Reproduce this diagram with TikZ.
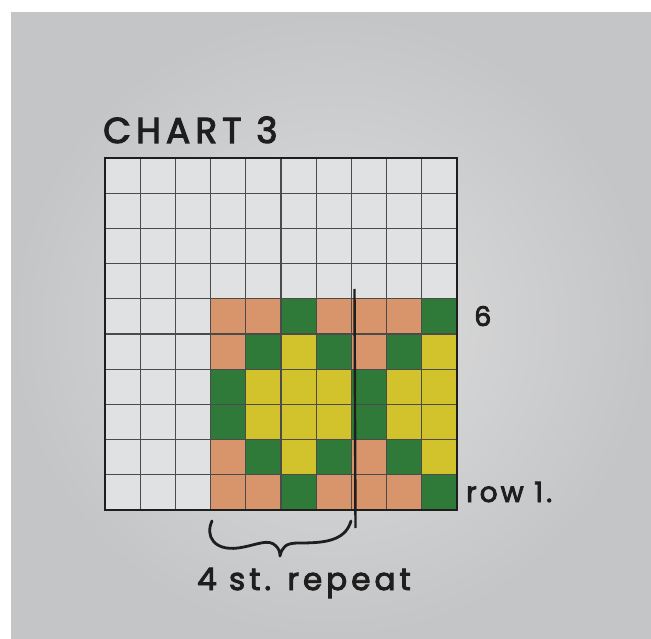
\documentclass[tikz,border=0pt]{standalone}
\usepackage{fontspec}
\setmainfont{Poppins}[FakeBold=3]
\definecolor{paperin}{HTML}{DEDEDE}
\definecolor{paperout}{HTML}{C4C5C7}
\definecolor{cellw}{HTML}{DFE1E3}
\definecolor{O}{HTML}{D8956C}
\definecolor{G}{HTML}{2F7A38}
\definecolor{Y}{HTML}{D2C22C}
\definecolor{ink}{HTML}{1E1E1E}
\tikzset{
  gridline/.style={draw=ink!80, line width=1.1pt},
  border/.style={draw=ink, line width=2pt},
  pen/.style={draw=ink, line width=2.8pt, line cap=round, line join=round},
  hand/.style={text=ink, inner sep=0pt, anchor=base west}
}
\begin{document}
\begin{tikzpicture}[x=1pt,y=-1pt]
\useasboundingbox (0,0) rectangle (651,639);
\fill[white] (0,0) rectangle (651,639);
\shade[inner color=paperin, outer color=paperout] (11,13) rectangle (651,639);
% blank cells
\fill[cellw] (105,158) rectangle (457,510);
% coloured cells (rows from top, index 4 = row 6, index 9 = row 1)
\foreach \r/\pat in {4/{O,O,G,O,O,O,G},5/{O,G,Y,G,O,G,Y},6/{G,Y,Y,Y,G,Y,Y},7/{G,Y,Y,Y,G,Y,Y},8/{O,G,Y,G,O,G,Y},9/{O,O,G,O,O,O,G}}{
  \foreach \k [count=\i from 3] in \pat {
    \fill[\k] ({105+\i*35.2},{158+\r*35.2}) rectangle ++(35.2,35.2);
  }
}
% grid lines
\foreach \i in {1,...,9}{
  \draw[gridline] ({105+\i*35.2},158) -- ({105+\i*35.2},510);
  \draw[gridline] (105,{158+\i*35.2}) -- (457,{158+\i*35.2});
}
\draw[border] (105,158) rectangle (457,510);
% repeat line
\coordinate (ltop) at (354.5,289);
\coordinate (lbot) at (355.5,528);
\draw[draw=ink, line width=2.4pt] (ltop) -- (lbot);
% brace
\coordinate (bl) at (212,521);
\coordinate (btip) at (280,556);
\coordinate (br) at (351,521);
\draw[pen] (bl) .. controls (205,536) and (214,551) .. (238,548)
  .. controls (258,545) and (268,538) .. (276,546)
  .. controls (279,549) and (280,552) .. (btip)
  .. controls (282,547) and (286,543) .. (298,543)
  .. controls (322,543) and (345,542) .. (br);
% labels
\node[hand, font=\fontsize{36}{36}\selectfont\addfontfeature{LetterSpace=14}] (title) at (103,143) {CHART 3};
\node[hand, font=\fontsize{27}{27}\selectfont] (six) at (474,326) {6};
\node[hand, font=\fontsize{28}{28}\selectfont\addfontfeature{LetterSpace=11}] (rowone) at (466,502) {row 1.};
\node[hand, font=\fontsize{31}{31}\selectfont\addfontfeature{LetterSpace=13}] (repeat) at (197,590) {4 st. repeat};
\end{tikzpicture}
\end{document}
